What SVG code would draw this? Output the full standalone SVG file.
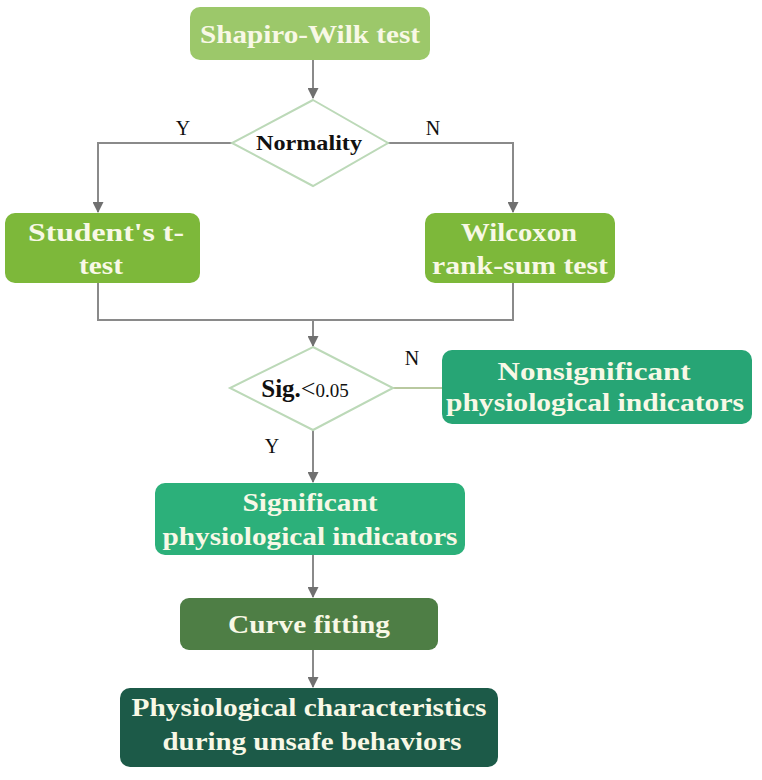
<svg xmlns="http://www.w3.org/2000/svg" width="762" height="780" viewBox="0 0 762 780">
<defs>
<marker id="ah" viewBox="0 0 10 10" refX="9" refY="5" markerWidth="12" markerHeight="11" markerUnits="userSpaceOnUse" orient="auto"><path d="M0,0 L10,5 L0,10 z" fill="#707070"/></marker>
<style>
.t{font-family:"Liberation Serif","Times New Roman",serif;font-weight:bold;font-size:26px;fill:#f8f8e6;text-anchor:middle}
.d{font-family:"Liberation Serif","Times New Roman",serif;font-weight:bold;fill:#111;text-anchor:middle}
.l{font-family:"Liberation Serif","Times New Roman",serif;font-size:20px;fill:#111;text-anchor:middle}
.c{fill:none;stroke:#8a8a8a;stroke-width:2}
.dm{fill:#fff;stroke:#bcd9b8;stroke-width:2}
</style>
</defs>
<rect width="762" height="780" fill="#fff"/>
<g id="connectors">
<path class="c" d="M313,60 V98" marker-end="url(#ah)"/>
<path class="c" d="M232,143 H98 V212" marker-end="url(#ah)"/>
<path class="c" d="M388,143 H513 V212" marker-end="url(#ah)"/>
<path class="c" d="M98,283 V320 H513 V283"/>
<path class="c" d="M313,320 V346" marker-end="url(#ah)"/>
<path d="M393,388 H442" fill="none" stroke="#b9c9a0" stroke-width="2"/>
<path class="c" d="M313,430 V482" marker-end="url(#ah)"/>
<path class="c" d="M313,555 V597" marker-end="url(#ah)"/>
<path class="c" d="M313,650 V687" marker-end="url(#ah)"/>
<text class="l" x="183" y="135">Y</text>
<text class="l" x="433" y="135">N</text>
<text class="l" x="412" y="365">N</text>
<text class="l" x="272" y="453">Y</text>
</g>
<g id="shapiro">
<rect x="190" y="7" width="240" height="53" rx="10" fill="#9cc86a"/>
<text class="t" x="310" y="43" textLength="220" lengthAdjust="spacingAndGlyphs">Shapiro-Wilk test</text>
</g>
<g id="normality">
<polygon class="dm" points="313,100 388,143 313,186 232,143"/>
<text class="d" x="309" y="150" font-size="21" textLength="106" lengthAdjust="spacingAndGlyphs">Normality</text>
</g>
<g id="student">
<rect x="5" y="213" width="195" height="70" rx="10" fill="#7db83a"/>
<text class="t" x="106" y="241" textLength="156" lengthAdjust="spacingAndGlyphs">Student's t-</text>
<text class="t" x="101" y="274" textLength="44" lengthAdjust="spacingAndGlyphs">test</text>
</g>
<g id="wilcoxon">
<rect x="425" y="213" width="190" height="70" rx="10" fill="#7db83a"/>
<text class="t" x="519" y="241" textLength="116" lengthAdjust="spacingAndGlyphs">Wilcoxon</text>
<text class="t" x="520" y="274" textLength="176" lengthAdjust="spacingAndGlyphs">rank-sum test</text>
</g>
<g id="sig">
<polygon class="dm" points="313,347 393,388 313,430 230,388"/>
<text class="d" x="305" y="397"><tspan font-size="25">Sig.</tspan><tspan font-size="26" font-weight="normal">&lt;</tspan><tspan font-size="19" font-weight="normal">0.05</tspan></text>
</g>
<g id="nonsig">
<rect x="442" y="350" width="310" height="74" rx="10" fill="#27a575"/>
<text class="t" x="594" y="380" textLength="193" lengthAdjust="spacingAndGlyphs">Nonsignificant</text>
<text class="t" x="595" y="411" textLength="298" lengthAdjust="spacingAndGlyphs">physiological indicators</text>
</g>
<g id="signif">
<rect x="155" y="483" width="310" height="72" rx="10" fill="#2cb07a"/>
<text class="t" x="310" y="511" textLength="135" lengthAdjust="spacingAndGlyphs">Significant</text>
<text class="t" x="310" y="545" textLength="295" lengthAdjust="spacingAndGlyphs">physiological indicators</text>
</g>
<g id="curve">
<rect x="180" y="598" width="258" height="52" rx="9" fill="#4e7e45"/>
<text class="t" x="309" y="633" textLength="162" lengthAdjust="spacingAndGlyphs">Curve fitting</text>
</g>
<g id="final">
<rect x="120" y="688" width="378" height="79" rx="10" fill="#1c5a48"/>
<text class="t" x="309" y="716" textLength="355" lengthAdjust="spacingAndGlyphs">Physiological characteristics</text>
<text class="t" x="312" y="750" textLength="299" lengthAdjust="spacingAndGlyphs">during unsafe behaviors</text>
</g>
</svg>
